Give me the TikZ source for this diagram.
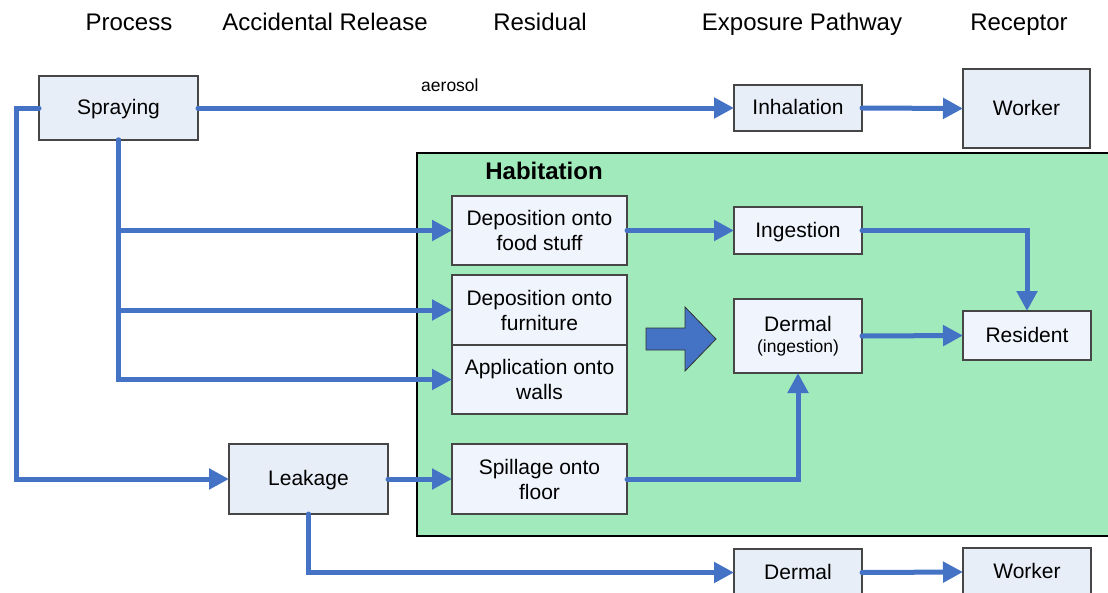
\documentclass[tikz,border=0pt]{standalone}
\usepackage{fontspec}
\setmainfont{Liberation Sans}
\usetikzlibrary{arrows.meta}
\definecolor{flowblue}{RGB}{68,114,196}
\definecolor{outerfill}{RGB}{232,238,248}
\definecolor{innerfill}{RGB}{240,244,252}
\definecolor{habgreen}{RGB}{160,234,188}
\definecolor{boxedge}{RGB}{70,70,70}
\begin{document}
\begin{tikzpicture}[x=1pt,y=-1pt,
  box/.style={draw=boxedge,line width=1.2pt,inner sep=0pt,outer sep=0pt,
    align=center,font=\fontsize{21}{25}\selectfont},
  oneline/.style={text height=15pt,text depth=2pt},
  outerbox/.style={box,fill=outerfill},
  innerbox/.style={box,fill=innerfill},
  header/.style={font=\fontsize{24}{28}\selectfont,anchor=base},
  conn/.style={draw=flowblue,line width=5pt,line cap=round},
  arr/.style={conn,-{Triangle[length=20pt,width=20pt]}}]
\useasboundingbox (0,0) rectangle (1108,592);

% column headings
\node[header] (hProc) at (129,30) {Process};
\node[header] (hRel)  at (325,30) {Accidental Release};
\node[header] (hRes)  at (540,30) {Residual};
\node[header] (hExp)  at (802,30) {Exposure Pathway};
\node[header] (hRec)  at (1019,30) {Receptor};

% habitation area
\fill[habgreen] (417,153) rectangle (1125,536);
\draw[black,line width=2pt] (1125,153) -- (417,153) -- (417,536) -- (1125,536);
\node[font=\bfseries\fontsize{24}{28}\selectfont] (habLabel) at (544,171) {Habitation};

% processes and releases
\node[outerbox,oneline,minimum width=159pt,minimum height=64pt] (spray) at (118.5,108) {Spraying};
\node[outerbox,oneline,minimum width=159pt,minimum height=70pt] (leak) at (308.5,479) {Leakage};

% residuals
\node[innerbox,minimum width=175pt,minimum height=69pt] (food) at (539.5,230.5) {Deposition onto\\food stuff};
\node[innerbox,minimum width=175pt,minimum height=70pt] (furn) at (539.5,310) {Deposition onto\\furniture};
\node[innerbox,minimum width=175pt,minimum height=69pt] (walls) at (539.5,379.5) {Application onto\\walls};
\node[innerbox,minimum width=175pt,minimum height=70pt] (spill) at (539.5,479) {Spillage onto\\floor};

% exposure pathways
\node[outerbox,oneline,minimum width=128pt,minimum height=46pt] (inhal) at (798,108) {Inhalation};
\node[innerbox,oneline,minimum width=128pt,minimum height=47pt] (ingest) at (798,230.5) {Ingestion};
\node[innerbox,minimum width=128pt,minimum height=74pt] (dermal) at (798,336)
  {Dermal\\[-4pt]{\fontsize{17.5}{20}\selectfont(ingestion)}};
\node[outerbox,oneline,minimum width=128pt,minimum height=47pt] (dermalB) at (798,572.5) {Dermal};

% receptors
\node[outerbox,oneline,minimum width=127pt,minimum height=79pt] (workerT) at (1026.5,108.5) {Worker};
\node[innerbox,oneline,minimum width=128pt,minimum height=49pt] (resident) at (1027,335.5) {Resident};
\node[outerbox,oneline,minimum width=128pt,minimum height=48pt] (workerB) at (1027,572) {Worker};

% transfer arrow between residuals and pathways
\draw[fill=flowblue,draw=black!80,line width=0.8pt]
  (646,328) -- (685,328) -- (685,307) -- (716,339) -- (685,371) -- (685,350) -- (646,350) -- cycle;

% connectors
\draw[arr] (spray.east) -- node[above=10pt,pos=0.47,font=\fontsize{17.5}{20}\selectfont,text=black] (aeroLabel) {aerosol} (inhal.west);
\draw[arr] (inhal.east) -- (workerT.west);
\draw[arr] (spray.west) -- ++(-23,0) |- (leak.west);
\draw[arr] (spray.south) |- (food.west);
\draw[arr] (spray.south) |- (furn.west);
\draw[arr] (spray.south) |- (walls.west);
\draw[arr] (food.east) -- (ingest.west);
\draw[arr] (ingest.east) -| (resident.north);
\draw[arr] (dermal.east) -- (resident.west);
\draw[arr] (leak.east) -- (spill.west);
\draw[arr] (spill.east) -| (dermal.south);
\draw[arr] (leak.south) |- (dermalB.west);
\draw[arr] (dermalB.east) -- (workerB.west);
\end{tikzpicture}
\end{document}
